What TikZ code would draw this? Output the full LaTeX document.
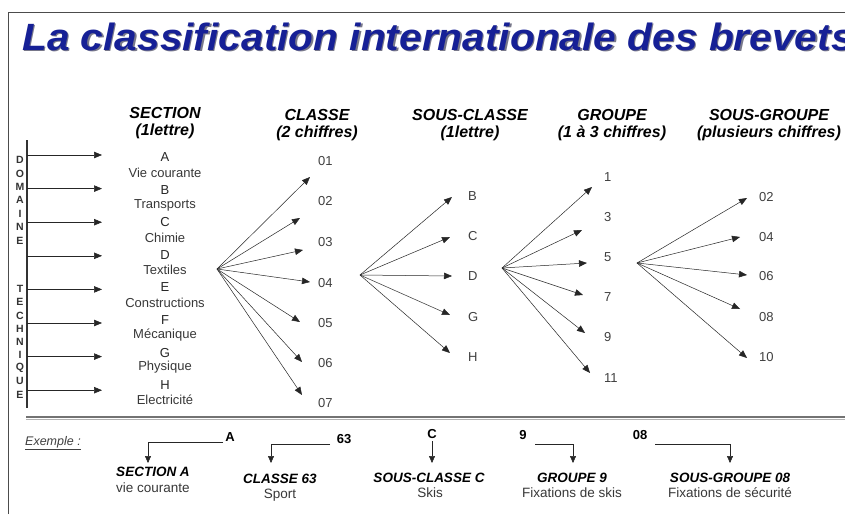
\documentclass[tikz,border=0pt]{standalone}
\usepackage{fontspec}
\setmainfont{Liberation Sans}
\usetikzlibrary{arrows.meta}
\definecolor{titleblue}{RGB}{22,32,150}
\definecolor{shadowcol}{RGB}{30,30,60}
\begin{document}
\begin{tikzpicture}[x=1pt,y=-1pt,
  arr/.style={-{Triangle[length=8pt,width=6.5pt]}, line width=0.5pt, black!85},
  sarr/.style={-{Triangle[length=7pt,width=6pt]}, line width=0.5pt, black!85},
  hdr/.style={font=\fontsize{16}{17}\selectfont\bfseries\itshape, align=center, inner sep=0pt},
  txt/.style={font=\fontsize{13}{15}\selectfont, text=black!78, inner sep=0pt},
  btxt/.style={font=\fontsize{13}{15}\selectfont\bfseries, text=black!85, inner sep=0pt},
  dom/.style={font=\fontsize{10.5}{11}\selectfont\bfseries, text=black!80, inner sep=0pt},
  num/.style={font=\fontsize{13}{15}\selectfont, text=black!75, inner sep=0pt, anchor=west},
  exb/.style={font=\fontsize{13.5}{15}\selectfont\bfseries\itshape, inner sep=0pt},
  ext/.style={font=\fontsize{13.5}{15}\selectfont, text=black!78, inner sep=0pt},
  exn/.style={font=\fontsize{13}{15}\selectfont\bfseries, inner sep=0pt}]
\clip (0,0) rectangle (845,514);
\fill[white] (0,0) rectangle (845,514);
% frame
\draw[line width=1pt, black!70] (8,514) -- (8,12) -- (845,12);
% title
\node[anchor=base west, inner sep=0pt, text=shadowcol!60, font=\fontsize{38}{40}\selectfont\bfseries\itshape] (titleshadow) at (23.2,51.2) {\scalebox{1.07}[1]{La classification internationale des brevets}};
\node[anchor=base west, inner sep=0pt, text=titleblue, font=\fontsize{38}{40}\selectfont\bfseries\itshape] (title) at (22,50) {\scalebox{1.07}[1]{La classification internationale des brevets}};
% headers
\node[hdr] (hsec) at (165,123) {SECTION\\(1lettre)};
\node[hdr] (hcla) at (317,125) {CLASSE\\(2 chiffres)};
\node[hdr] (hscl) at (470,125) {SOUS-CLASSE\\(1lettre)};
\node[hdr] (hgrp) at (612,125) {GROUPE\\(1 à 3 chiffres)};
\node[hdr] (hsgr) at (769,125) {SOUS-GROUPE\\(plusieurs chiffres)};
% domaine technique
\coordinate (dtop) at (27,140);
\coordinate (dbot) at (27,408);
\draw[line width=1.2pt, black!80] (dtop) -- (dbot);
\foreach \l [count=\i from 0] in {D,O,M,A,I,N,E}
  \node[dom] (dom\i) at (20,{160+13.4*\i}) {\l};
\foreach \l [count=\i from 0] in {T,E,C,H,N,I,Q,U,E}
  \node[dom] (tec\i) at (20,{289+13.2*\i}) {\l};
% sections
\foreach \l/\d/\w [count=\i from 0] in {A/Vie courante/b,B/Transports/b,C/Chimie/n,D/Textiles/n,E/Constructions/b,F/Mécanique/b,G/Physique/b,H/Electricité/b}{
  \ifx\w b\relax
    \node[btxt] (sec\l) at (165,{157+32.6*\i}) {\l};
  \else
    \node[txt, text=black!85] (sec\l) at (165,{157+32.6*\i}) {\l};
  \fi
  \node[txt] (des\l) at (165,{173+32.4*\i}) {\d};
  \coordinate (ds\l) at (27,{155+33.6*\i});
  \coordinate (dt\l) at (102,{155+33.6*\i});
  \draw[arr] (ds\l) -- (dt\l);
}
% classe fan
\coordinate (oc) at (217,269);
\foreach \n/\tx/\ty/\ly in {01/310/177/161,02/300/218/201,03/303/250/242,04/310/282/283,05/300/322/323,06/302/362/363,07/302/395/403}{
  \node[num] (c\n) at (318,\ly) {\n};
  \coordinate (ct\n) at (\tx,\ty);
  \draw[arr] (oc) -- (ct\n);
}
% sous-classe fan
\coordinate (os) at (360,275);
\foreach \n/\tx/\ty/\ly in {B/452/197/196,C/450/237/236,D/452/276/276,G/450/315/317,H/450/353/357}{
  \node[num] (s\n) at (468,\ly) {\n};
  \coordinate (st\n) at (\tx,\ty);
  \draw[arr] (os) -- (st\n);
}
% groupe fan
\coordinate (og) at (502,268);
\foreach \n/\tx/\ty/\ly in {1/592/187/177,3/582/230/217,5/587/263/257,7/583/295/297,9/585/333/337,11/590/373/378}{
  \node[num] (g\n) at (604,\ly) {\n};
  \coordinate (gt\n) at (\tx,\ty);
  \draw[arr] (og) -- (gt\n);
}
% sous-groupe fan
\coordinate (osg) at (637,263);
\foreach \n/\tx/\ty/\ly in {02/747/198/197,04/740/237/237,06/747/275/276,08/740/309/317,10/747/358/357}{
  \node[num] (sg\n) at (759,\ly) {\n};
  \coordinate (sgt\n) at (\tx,\ty);
  \draw[arr] (osg) -- (sgt\n);
}
% separator
\coordinate (sepl) at (26,417);
\coordinate (sepr) at (845,417);
\draw[line width=1.2pt, black!55] (sepl) -- (sepr);
\draw[line width=1pt, black!30] ([yshift=-2.2pt]sepl) -- ([yshift=-2.2pt]sepr);
% example
\node[anchor=west, inner sep=0pt, font=\fontsize{12.5}{14}\selectfont\itshape, text=black!75] (exemple) at (25,443) {\underline{Exemple :}};
% SECTION A
\node[exn] (eA) at (230,437) {A};
\coordinate (eA1) at (223,442);
\coordinate (eA2) at (148,463);
\draw[sarr] (eA1) -| (eA2);
\node[exb] (xsec) at (153,472) {SECTION A};
\node[ext] (xsecd) at (153,488) {vie courante};
% CLASSE 63
\node[exn] (e63) at (344,439) {63};
\coordinate (e631) at (330,444);
\coordinate (e632) at (271,463);
\draw[sarr] (e631) -| (e632);
\node[exb] (xcla) at (280,479) {CLASSE 63};
\node[ext] (xclad) at (280,495) {Sport};
% SOUS-CLASSE C
\node[exn] (eC) at (432,434) {C};
\coordinate (eC1) at (432,441);
\coordinate (eC2) at (432,463);
\draw[sarr] (eC1) -- (eC2);
\node[exb] (xscl) at (429,478) {SOUS-CLASSE C};
\node[ext] (xscld) at (430,493) {Skis};
% GROUPE 9
\node[exn] (e9) at (523,435) {9};
\coordinate (e91) at (535,444);
\coordinate (e92) at (573,463);
\draw[sarr] (e91) -| (e92);
\node[exb] (xgrp) at (572,478) {GROUPE 9};
\node[ext] (xgrpd) at (572,493) {Fixations de skis};
% SOUS-GROUPE 08
\node[exn] (e08) at (640,435) {08};
\coordinate (e081) at (655,444);
\coordinate (e082) at (730,463);
\draw[sarr] (e081) -| (e082);
\node[exb] (xsgr) at (730,478) {SOUS-GROUPE 08};
\node[ext] (xsgrd) at (730,493) {Fixations de sécurité};
\end{tikzpicture}
\end{document}
